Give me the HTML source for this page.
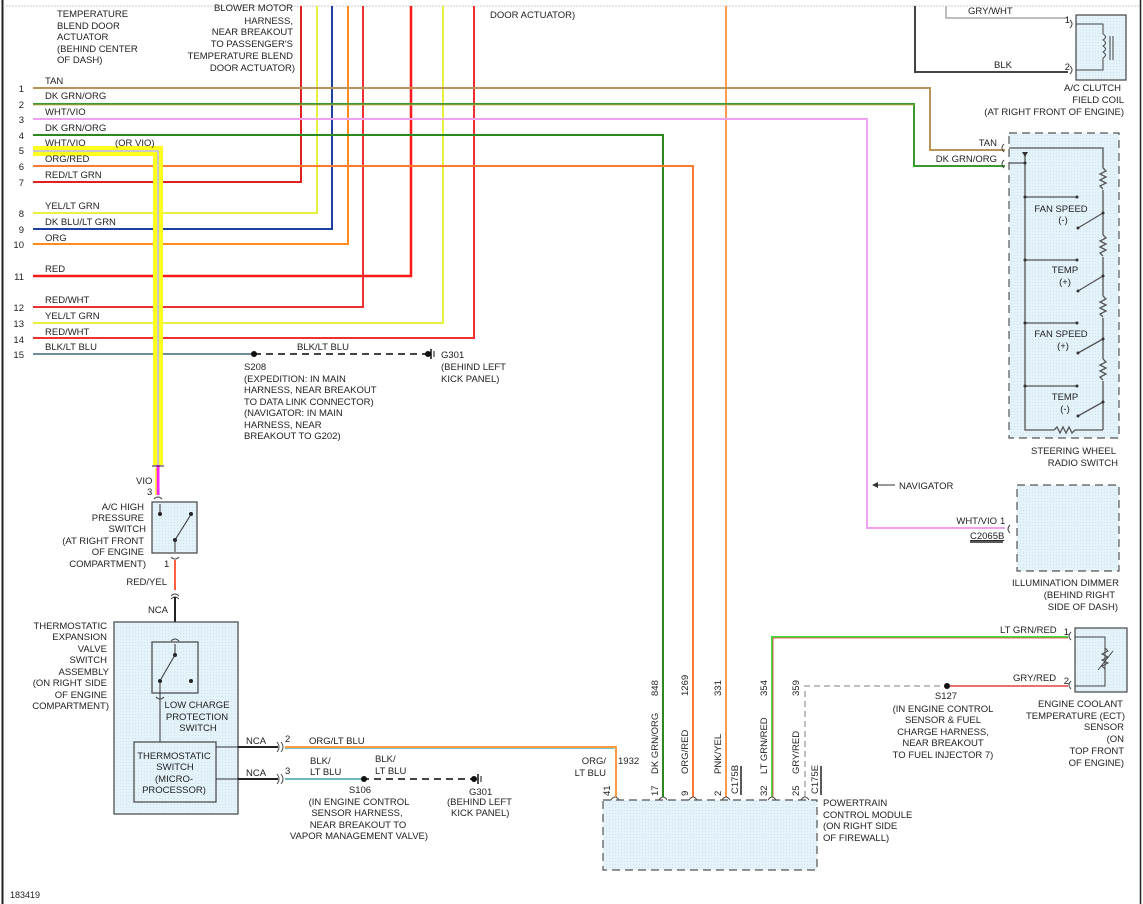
<!DOCTYPE html>
<html><head><meta charset="utf-8"><style>
html,body{margin:0;padding:0;background:#fff;}
svg{display:block;font-family:"Liberation Sans",sans-serif;font-size:9.5px;fill:#222;}
text{fill:#222;}
.r{text-anchor:end}.m{text-anchor:middle}
</style></head><body>
<svg width="1143" height="904" viewBox="0 0 1143 904" xmlns="http://www.w3.org/2000/svg">
<defs>
<pattern id="dots" width="3" height="3" patternUnits="userSpaceOnUse"><rect width="3" height="3" fill="#e4f2fa"/><rect width="1" height="1" fill="#cfe3ee"/></pattern>
</defs>
<!-- borders -->
<line x1="2.5" y1="0" x2="2.5" y2="904" stroke="#222" stroke-width="2"/>
<line x1="1140.5" y1="0" x2="1140.5" y2="904" stroke="#222" stroke-width="1.5"/>
<line x1="3" y1="6" x2="1140" y2="6" stroke="#ccc" stroke-width="1" stroke-dasharray="2,1"/>

<!-- top texts -->
<text x="57" y="17">TEMPERATURE</text><text x="57" y="29">BLEND DOOR</text><text x="57" y="40">ACTUATOR</text><text x="57" y="52">(BEHIND CENTER</text><text x="57" y="63">OF DASH)</text>
<text class="r" x="293" y="11">BLOWER MOTOR</text><text class="r" x="293" y="24">HARNESS,</text><text class="r" x="293" y="35">NEAR BREAKOUT</text><text class="r" x="293" y="47">TO PASSENGER'S</text><text class="r" x="293" y="59">TEMPERATURE BLEND</text><text class="r" x="295" y="71">DOOR ACTUATOR)</text>
<text x="490" y="18">DOOR ACTUATOR)</text>

<!-- vertical riser wires -->
<polyline points="33,182 301,182 301,6" fill="none" stroke="#e02020" stroke-width="2"/>
<polyline points="33,213 317,213 317,6" fill="none" stroke="#e8f040" stroke-width="2"/>
<polyline points="33,229 332,229 332,6" fill="none" stroke="#2040a0" stroke-width="2"/>
<polyline points="33,244 348,244 348,6" fill="none" stroke="#ff8c1a" stroke-width="2"/>
<polyline points="33,276 411,276 411,6" fill="none" stroke="#ff1a1a" stroke-width="2.5"/>
<polyline points="33,307 363,307 363,6" fill="none" stroke="#f03030" stroke-width="2"/>
<polyline points="33,323 443,323 443,6" fill="none" stroke="#e8f040" stroke-width="2"/>
<polyline points="33,338 474,338 474,6" fill="none" stroke="#f03030" stroke-width="2"/>
<line x1="726" y1="6" x2="726" y2="797" stroke="#ff9a50" stroke-width="2"/>
<!-- long wires -->
<polyline points="33,88 930,88 930,150 1005,150" fill="none" stroke="#b8945a" stroke-width="2"/>
<polyline points="33,104 914,104 914,166 1005,166" fill="none" stroke="#3a9a30" stroke-width="2"/>
<polyline points="33,105 914,105" fill="none" stroke="#e0a040" stroke-width="0.8"/>
<polyline points="33,119 867,119 867,528 1005,528" fill="none" stroke="#f0a0f0" stroke-width="2"/>
<polyline points="33,135 663,135 663,797" fill="none" stroke="#2a8a20" stroke-width="2"/>
<polyline points="33,166 693,166 693,797" fill="none" stroke="#ff7a30" stroke-width="2"/>
<line x1="33" y1="354" x2="254" y2="354" stroke="#406878" stroke-width="1.5"/>
<line x1="254" y1="354" x2="428" y2="354" stroke="#444" stroke-width="2" stroke-dasharray="7,5"/>
<circle cx="254" cy="354" r="3" fill="#111"/><circle cx="428" cy="354" r="3" fill="#111"/>
<line x1="431" y1="349" x2="431" y2="359" stroke="#111" stroke-width="1.5"/><line x1="434" y1="351" x2="434" y2="357" stroke="#111"/>
<!-- highlight -->
<polyline points="33,151 158,151 158,465" fill="none" stroke="#ffff20" stroke-width="10"/>
<polyline points="33,151 158,151 158,465" fill="none" stroke="#c8c8c8" stroke-width="2"/>

<!-- wire labels left -->
<g>
<text x="45" y="84">TAN</text><text x="45" y="99">DK GRN/ORG</text><text x="45" y="115">WHT/VIO</text><text x="45" y="131">DK GRN/ORG</text><text x="45" y="146">WHT/VIO</text><text x="115" y="146">(OR VIO)</text><text x="45" y="162">ORG/RED</text><text x="45" y="178">RED/LT GRN</text><text x="45" y="209">YEL/LT GRN</text><text x="45" y="225">DK BLU/LT GRN</text><text x="45" y="241">ORG</text><text x="45" y="272">RED</text><text x="45" y="303">RED/WHT</text><text x="45" y="319">YEL/LT GRN</text><text x="45" y="335">RED/WHT</text><text x="45" y="350">BLK/LT BLU</text>
</g>
<g class="r">
<text class="r" x="24" y="92">1</text><text class="r" x="24" y="108">2</text><text class="r" x="24" y="123">3</text><text class="r" x="24" y="139">4</text><text class="r" x="24" y="154">5</text><text class="r" x="24" y="170">6</text><text class="r" x="24" y="186">7</text><text class="r" x="24" y="217">8</text><text class="r" x="24" y="233">9</text><text class="r" x="24" y="248">10</text><text class="r" x="24" y="280">11</text><text class="r" x="24" y="311">12</text><text class="r" x="24" y="327">13</text><text class="r" x="24" y="343">14</text><text class="r" x="24" y="358">15</text>
</g>
<text x="297" y="350">BLK/LT BLU</text>
<text x="244" y="370">S208</text><text x="244" y="382">(EXPEDITION: IN MAIN</text><text x="244" y="393">HARNESS, NEAR BREAKOUT</text><text x="244" y="405">TO DATA LINK CONNECTOR)</text><text x="244" y="416">(NAVIGATOR: IN MAIN</text><text x="244" y="428">HARNESS, NEAR</text><text x="244" y="439">BREAKOUT TO G202)</text>
<text x="441" y="358">G301</text><text x="441" y="370">(BEHIND LEFT</text><text x="441" y="382">KICK PANEL)</text>

<!-- A/C clutch -->
<polyline points="946,6 946,18 1068,18" fill="none" stroke="#aaa" stroke-width="1.5"/>
<polyline points="915,6 915,72 1068,72" fill="none" stroke="#444" stroke-width="2"/>
<text x="968" y="14">GRY/WHT</text><text x="994" y="68">BLK</text>
<text class="r" x="1070" y="23">1</text><text class="r" x="1070" y="70">2</text>
<rect x="1076" y="15" width="50" height="65" fill="url(#dots)" stroke="#444" stroke-width="1.2"/>
<path d="M1070,20 q4,4 0,8 M1070,66 q4,4 0,8" fill="none" stroke="#444"/>
<polyline points="1076,24 1103,24 1103,34" fill="none" stroke="#444"/>
<path d="M1103,34 q5,3 0,6 q5,3 0,6 q5,3 0,6 q5,3 0,6" fill="none" stroke="#444"/>
<polyline points="1103,58 1103,70 1076,70" fill="none" stroke="#444"/>
<line x1="1110" y1="36" x2="1110" y2="60" stroke="#444"/><line x1="1113" y1="36" x2="1113" y2="60" stroke="#444"/>
<text class="r" x="1121" y="91">A/C CLUTCH</text><text class="r" x="1124" y="103">FIELD COIL</text><text class="r" x="1124" y="115">(AT RIGHT FRONT OF ENGINE)</text>

<!-- steering wheel switch -->
<rect x="1009" y="133" width="110" height="305" fill="url(#dots)" stroke="#555" stroke-width="1.2" stroke-dasharray="8,5"/>
<text class="r" x="997" y="146">TAN</text><text class="r" x="997" y="162">DK GRN/ORG</text>
<path d="M1004,144 q-4,4 0,8 M1004,160 q-4,4 0,8" fill="none" stroke="#444"/>
<g fill="none" stroke="#555" stroke-width="1.3">
<polyline points="1009,148 1103,148 1103,168"/>
<path d="M1103,168 l3,3 l-6,3 l6,3 l-6,3 l6,3 l-6,3 l3,3 M1103,190 L1103,213"/>
<path d="M1103,235 l3,3 l-6,3 l6,3 l-6,3 l6,3 l-6,3 l3,3 M1103,257 L1103,276"/>
<path d="M1103,296 l3,3 l-6,3 l6,3 l-6,3 l6,3 l-6,3 l3,3 M1103,318 L1103,339"/>
<path d="M1103,359 l3,3 l-6,3 l6,3 l-6,3 l6,3 l-6,3 l3,3 M1103,381 L1103,402"/>
<line x1="1103" y1="213" x2="1103" y2="235"/><line x1="1103" y1="276" x2="1103" y2="296"/><line x1="1103" y1="339" x2="1103" y2="359"/><line x1="1103" y1="402" x2="1103" y2="430"/>
<polyline points="1009,163 1025,163"/>
<polyline points="1025,152 1025,430 1054,430"/>
<path d="M1054,430 l3,-3 l3,6 l3,-6 l3,6 l3,-6 l3,6 l3,-3"/>
<line x1="1075" y1="430" x2="1103" y2="430"/>
<line x1="1025" y1="197" x2="1077" y2="197"/><line x1="1025" y1="260" x2="1077" y2="260"/><line x1="1025" y1="323" x2="1077" y2="323"/><line x1="1025" y1="386" x2="1077" y2="386"/>
<line x1="1078" y1="228" x2="1103" y2="213"/><line x1="1078" y1="291" x2="1103" y2="276"/><line x1="1078" y1="353" x2="1103" y2="339"/><line x1="1078" y1="416" x2="1103" y2="402"/>
</g>
<polygon points="1022,152 1028,152 1025,157" fill="#333"/>
<g fill="#333"><circle cx="1025" cy="163" r="1.5"/><circle cx="1025" cy="197" r="1.5"/><circle cx="1077" cy="197" r="1.5"/><circle cx="1025" cy="260" r="1.5"/><circle cx="1077" cy="260" r="1.5"/><circle cx="1025" cy="323" r="1.5"/><circle cx="1077" cy="323" r="1.5"/><circle cx="1025" cy="386" r="1.5"/><circle cx="1077" cy="386" r="1.5"/><circle cx="1078" cy="228" r="1.5"/><circle cx="1078" cy="291" r="1.5"/><circle cx="1078" cy="353" r="1.5"/><circle cx="1078" cy="416" r="1.5"/><circle cx="1103" cy="213" r="1.5"/><circle cx="1103" cy="276" r="1.5"/><circle cx="1103" cy="339" r="1.5"/><circle cx="1103" cy="402" r="1.5"/></g>
<text class="m" x="1061" y="212">FAN SPEED</text><text class="m" x="1063" y="223">(-)</text>
<text class="m" x="1065" y="273">TEMP</text><text class="m" x="1065" y="285">(+)</text>
<text class="m" x="1061" y="337">FAN SPEED</text><text class="m" x="1063" y="349">(+)</text>
<text class="m" x="1065" y="400">TEMP</text><text class="m" x="1065" y="412">(-)</text>
<text class="r" x="1116" y="454">STEERING WHEEL</text><text class="r" x="1118" y="466">RADIO SWITCH</text>

<!-- navigator / dimmer -->
<line x1="873" y1="485" x2="895" y2="485" stroke="#333"/><polygon points="872,485 878,482 878,488" fill="#333"/>
<text x="899" y="489">NAVIGATOR</text>
<text class="r" x="997" y="524">WHT/VIO</text><text x="1000" y="524">1</text>
<path d="M1010,525 q-4,4 0,8" fill="none" stroke="#444"/>
<text x="970" y="539" style="text-decoration:underline">C2065B</text>
<line x1="970" y1="542" x2="1003" y2="542" stroke="#222" stroke-width="1.5"/>
<rect x="1017" y="485" width="102" height="86" fill="url(#dots)" stroke="#555" stroke-width="1.2" stroke-dasharray="8,5"/>
<text class="r" x="1119" y="586">ILLUMINATION DIMMER</text><text class="r" x="1115" y="598">(BEHIND RIGHT</text><text class="r" x="1118" y="610">SIDE OF DASH)</text>

<!-- ECT -->
<polyline points="772,797 772,637 1068,637" fill="none" stroke="#40e040" stroke-width="2"/>
<polyline points="773,797 773,638 1068,638" fill="none" stroke="#f03030" stroke-width="0.8"/>
<polyline points="805,797 805,686 945,686" fill="none" stroke="#aaa" stroke-width="1.5" stroke-dasharray="6,4"/>
<line x1="947" y1="686" x2="1068" y2="686" stroke="#e04040" stroke-width="1.5"/>
<circle cx="947" cy="686" r="3" fill="#111"/>
<text x="1000" y="633">LT GRN/RED</text><text class="r" x="1069" y="635">1</text>
<text x="1013" y="681">GRY/RED</text><text class="r" x="1069" y="684">2</text>
<path d="M1071,632 q-4,4 0,8 M1071,681 q-4,4 0,8" fill="none" stroke="#444"/>
<rect x="1075" y="628" width="52" height="64" fill="url(#dots)" stroke="#444" stroke-width="1.2"/>
<polyline points="1075,637 1105,637 1105,686 1075,686" fill="none" stroke="#444"/>
<path d="M1105,648 l3,3 l-6,3 l6,3 l-6,3 l6,3 l-6,3 l3,3" fill="none" stroke="#444"/>
<line x1="1098" y1="670" x2="1113" y2="651" stroke="#444"/>
<text class="m" x="946" y="699">S127</text><text class="m" x="943" y="712">(IN ENGINE CONTROL</text><text class="m" x="943" y="723">SENSOR &amp; FUEL</text><text class="m" x="943" y="735">CHARGE HARNESS,</text><text class="m" x="943" y="746">NEAR BREAKOUT</text><text class="m" x="943" y="758">TO FUEL INJECTOR 7)</text>
<text class="r" x="1123" y="707">ENGINE COOLANT</text><text class="r" x="1125" y="719">TEMPERATURE (ECT)</text><text class="r" x="1124" y="730">SENSOR</text><text class="r" x="1124" y="742">(ON</text><text class="r" x="1124" y="754">TOP FRONT</text><text class="r" x="1124" y="766">OF ENGINE)</text>

<!-- PCM -->
<rect x="603" y="800" width="214" height="70" fill="url(#dots)" stroke="#555" stroke-width="1.2" stroke-dasharray="8,5"/>
<g fill="none" stroke="#444"><path d="M611,800 q4,-6 8,0 M659,800 q4,-6 8,0 M689,800 q4,-6 8,0 M722,800 q4,-6 8,0 M768,800 q4,-6 8,0 M801,800 q4,-6 8,0"/></g>
<polyline points="285,747 616,747 616,797" fill="none" stroke="#ff9a40" stroke-width="2"/>
<line x1="285" y1="748.5" x2="614" y2="748.5" stroke="#40b0c0" stroke-width="0.8"/>
<text class="r" x="606" y="764">ORG/</text><text class="r" x="606" y="776">LT BLU</text><text x="618" y="764">1932</text>
<g font-size="9.5">
<text transform="translate(610,796) rotate(-90)">41</text>
<text transform="translate(658,796) rotate(-90)">17</text><text transform="translate(658,774) rotate(-90)">DK GRN/ORG</text><text transform="translate(658,696) rotate(-90)">848</text>
<text transform="translate(688,796) rotate(-90)">9</text><text transform="translate(688,774) rotate(-90)">ORG/RED</text><text transform="translate(688,696) rotate(-90)">1269</text>
<text transform="translate(721,796) rotate(-90)">2</text><text transform="translate(721,774) rotate(-90)">PNK/YEL</text><text transform="translate(721,696) rotate(-90)">331</text>
<text transform="translate(738,794) rotate(-90)">C175B</text>
<text transform="translate(767,796) rotate(-90)">32</text><text transform="translate(767,774) rotate(-90)">LT GRN/RED</text><text transform="translate(767,696) rotate(-90)">354</text>
<text transform="translate(799,796) rotate(-90)">25</text><text transform="translate(799,774) rotate(-90)">GRY/RED</text><text transform="translate(799,696) rotate(-90)">359</text>
<text transform="translate(818,794) rotate(-90)">C175E</text>
</g>
<line x1="741" y1="766" x2="741" y2="795" stroke="#222" stroke-width="1.5"/>
<line x1="821" y1="766" x2="821" y2="795" stroke="#222" stroke-width="1.5"/>
<text x="823" y="806">POWERTRAIN</text><text x="823" y="818">CONTROL MODULE</text><text x="823" y="829">(ON RIGHT SIDE</text><text x="823" y="841">OF FIREWALL)</text>

<!-- A/C high pressure switch -->
<line x1="158" y1="465" x2="158" y2="495" stroke="#ff20ff" stroke-width="3"/>
<line x1="156" y1="468" x2="156" y2="495" stroke="#ffee20" stroke-width="1.5"/>
<line x1="152" y1="466" x2="164" y2="466" stroke="#222"/>
<text x="136" y="484">VIO</text><text x="147" y="495">3</text>
<path d="M154,499 q4,-4 8,0 M171,557 q4,4 8,0" fill="none" stroke="#444"/>
<rect x="152" y="502" width="45" height="51" fill="url(#dots)" stroke="#444" stroke-width="1.2"/>
<line x1="160" y1="504" x2="160" y2="514" stroke="#333"/><circle cx="160" cy="514" r="2" fill="#222"/>
<circle cx="191" cy="514" r="2" fill="#222"/><circle cx="175" cy="540" r="2" fill="#222"/>
<line x1="175" y1="540" x2="190" y2="516" stroke="#333"/><line x1="175" y1="540" x2="175" y2="552" stroke="#333"/>
<text class="r" x="144" y="510">A/C HIGH</text><text class="r" x="144" y="521">PRESSURE</text><text class="r" x="146" y="532">SWITCH</text><text class="r" x="144" y="544">(AT RIGHT FRONT</text><text class="r" x="144" y="555">OF ENGINE</text><text class="r" x="146" y="567">COMPARTMENT)</text>
<text x="164" y="567">1</text>
<line x1="175" y1="560" x2="175" y2="590" stroke="#ff6040" stroke-width="2"/>
<text class="r" x="167" y="585">RED/YEL</text>
<path d="M171,596 q4,-4 8,0 M171,599 q4,-4 8,0" fill="none" stroke="#444"/>
<line x1="175" y1="597" x2="175" y2="638" stroke="#222" stroke-width="2"/>
<text class="r" x="168" y="613">NCA</text>
<!-- TXV assembly -->
<rect x="114" y="622" width="124" height="192" fill="url(#dots)" stroke="#444" stroke-width="1.2"/>
<path d="M171,641 q4,-4 8,0 M156,697 q4,4 8,0" fill="none" stroke="#444"/>
<rect x="152" y="642" width="46" height="51" fill="url(#dots)" stroke="#444" stroke-width="1.2"/>
<circle cx="175" cy="655" r="2" fill="#222"/><circle cx="160" cy="681" r="2" fill="#222"/><circle cx="191" cy="681" r="2" fill="#222"/>
<line x1="175" y1="644" x2="175" y2="655" stroke="#333"/><line x1="161" y1="679" x2="175" y2="655" stroke="#333"/><line x1="160" y1="681" x2="160" y2="742" stroke="#333"/>
<text class="r" x="107" y="629">THERMOSTATIC</text><text class="r" x="107" y="640">EXPANSION</text><text class="r" x="107" y="652">VALVE</text><text class="r" x="107" y="663">SWITCH</text><text class="r" x="109" y="675">ASSEMBLY</text><text class="r" x="107" y="686">(ON RIGHT SIDE</text><text class="r" x="107" y="698">OF ENGINE</text><text class="r" x="109" y="709">COMPARTMENT)</text>
<text class="m" x="197" y="708">LOW CHARGE</text><text class="m" x="197" y="720">PROTECTION</text><text class="m" x="198" y="731">SWITCH</text>
<rect x="134" y="742" width="82" height="60" fill="url(#dots)" stroke="#444" stroke-width="1.2"/>
<text class="m" x="174" y="759">THERMOSTATIC</text><text class="m" x="175" y="770">SWITCH</text><text class="m" x="174" y="782">(MICRO-</text><text class="m" x="174" y="793">PROCESSOR)</text>
<line x1="216" y1="747" x2="238" y2="747" stroke="#333"/><line x1="238" y1="747" x2="278" y2="747" stroke="#222" stroke-width="2"/>
<line x1="216" y1="779" x2="238" y2="779" stroke="#333"/><line x1="238" y1="779" x2="278" y2="779" stroke="#222" stroke-width="2"/>
<path d="M277,742 q4,5 0,10 M281,742 q4,5 0,10 M277,774 q4,5 0,10 M281,774 q4,5 0,10" fill="none" stroke="#444"/>
<text x="246" y="744">NCA</text><text x="246" y="776">NCA</text><text x="285" y="742">2</text><text x="285" y="774">3</text>
<text x="309" y="744">ORG/LT BLU</text>
<text x="310" y="764">BLK/</text><text x="310" y="775">LT BLU</text><text x="375" y="762">BLK/</text><text x="375" y="774">LT BLU</text>
<line x1="285" y1="779" x2="362" y2="779" stroke="#40a0b0" stroke-width="1.5"/>
<line x1="362" y1="779" x2="474" y2="779" stroke="#444" stroke-width="2" stroke-dasharray="7,5"/>
<circle cx="364" cy="779" r="3" fill="#111"/><circle cx="474" cy="779" r="3" fill="#111"/>
<line x1="478" y1="774" x2="478" y2="784" stroke="#111" stroke-width="1.5"/><line x1="481" y1="776" x2="481" y2="782" stroke="#111"/>
<text class="m" x="360" y="793">S106</text><text class="m" x="359" y="805">(IN ENGINE CONTROL</text><text class="m" x="357" y="816">SENSOR HARNESS,</text><text class="m" x="358" y="828">NEAR BREAKOUT TO</text><text class="m" x="359" y="839">VAPOR MANAGEMENT VALVE)</text>
<text x="469" y="795">G301</text><text x="447" y="805">(BEHIND LEFT</text><text x="451" y="816">KICK PANEL)</text>
<text x="10" y="898" font-size="9">183419</text>
</svg>
</body></html>
